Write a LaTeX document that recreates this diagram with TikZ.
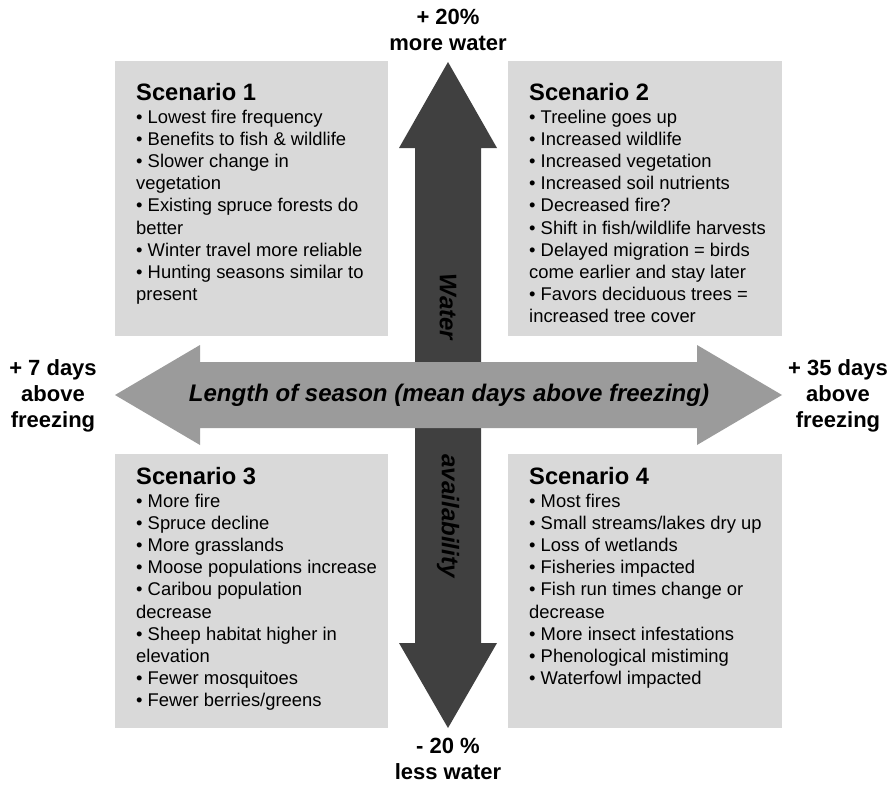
\documentclass[tikz,border=0pt]{standalone}
\usepackage{fontspec}
\setmainfont{Liberation Sans}
\definecolor{boxgray}{HTML}{D9D9D9}
\definecolor{seasongray}{HTML}{9B9B9B}
\definecolor{watergray}{HTML}{404040}
\newcommand\scenhead[1]{{\fontsize{23.7}{22.2}\selectfont\bfseries #1}}
\begin{document}
\begin{tikzpicture}[x=1pt,y=-1pt,
  scen/.style={anchor=north west, inner sep=0pt, align=left, font=\fontsize{18.4}{22.2}\selectfont},
  ends/.style={anchor=north, inner sep=0pt, align=center, font=\fontsize{22}{26}\selectfont\bfseries},
  axislabel/.style={inner sep=0pt, font=\fontsize{24}{28}\selectfont\bfseries\itshape}]
\useasboundingbox (0,0) rectangle (896,784);
% scenario boxes
\fill[boxgray] (115,61) rectangle (388,336);
\fill[boxgray] (508,61) rectangle (782,336);
\fill[boxgray] (115,454) rectangle (388,728);
\fill[boxgray] (508,454) rectangle (782,728);
% water axis, then season axis on top
\fill[watergray] (448,62) -- (497,148) -- (481,148) -- (481,643) -- (497,643) -- (448,728)
  -- (399,643) -- (415,643) -- (415,148) -- (399,148) -- cycle;
\fill[seasongray] (115,395) -- (200,345) -- (200,362) -- (697,362) -- (697,345) -- (782,395)
  -- (697,445) -- (697,428) -- (200,428) -- (200,445) -- cycle;
\node[axislabel] (season) at (449,395) {Length of season (mean days above freezing)};
\node[axislabel, rotate=-90] (water) at (448,307) {Water};
\node[axislabel, rotate=-90] (avail) at (448,516) {availability};
% ends of the axes
\node[ends] (wetter) at (448,9) {+ 20\%\\more water};
\node[ends] (drier) at (448,738) {- 20 \%\\less water};
\node[ends] (shorter) at (53,359) {+ 7 days\\above\\freezing};
\node[ends] (longer) at (838,359) {+ 35 days\\above\\freezing};
% scenarios
\node[scen] (s1) at (136,83.5) {\scenhead{Scenario 1}\\
  • Lowest fire frequency\\
  • Benefits to fish \& wildlife\\
  • Slower change in\\
  vegetation\\
  • Existing spruce forests do\\
  better\\
  • Winter travel more reliable\\
  • Hunting seasons similar to\\
  present};
\node[scen] (s2) at (529,83.5) {\scenhead{Scenario 2}\\
  • Treeline goes up\\
  • Increased wildlife\\
  • Increased vegetation\\
  • Increased soil nutrients\\
  • Decreased fire?\\
  • Shift in fish/wildlife harvests\\
  • Delayed migration = birds\\
  come earlier and stay later\\
  • Favors deciduous trees =\\
  increased tree cover};
\node[scen] (s3) at (136,467.5) {\scenhead{Scenario 3}\\
  • More fire\\
  • Spruce decline\\
  • More grasslands\\
  • Moose populations increase\\
  • Caribou population\\
  decrease\\
  • Sheep habitat higher in\\
  elevation\\
  • Fewer mosquitoes\\
  • Fewer berries/greens};
\node[scen] (s4) at (529,467.5) {\scenhead{Scenario 4}\\
  • Most fires\\
  • Small streams/lakes dry up\\
  • Loss of wetlands\\
  • Fisheries impacted\\
  • Fish run times change or\\
  decrease\\
  • More insect infestations\\
  • Phenological mistiming\\
  • Waterfowl impacted};
\end{tikzpicture}
\end{document}
